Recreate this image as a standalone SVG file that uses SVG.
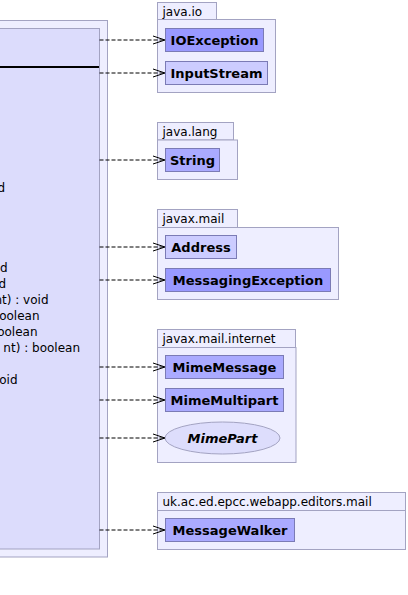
<svg xmlns="http://www.w3.org/2000/svg" width="408" height="595" viewBox="0 0 408 595">
  <defs>
    <style>
      .frame { fill: #eeeeff; stroke: #a3a3c2; stroke-width: 1; }
      .inner { fill: #dcdcfc; stroke: #a3a3c2; stroke-width: 1; }
      .pkg { fill: #eeeeff; stroke: #a3a3c2; stroke-width: 1; }
      .pkgname { font-family: "DejaVu Sans", sans-serif; font-size: 12px; fill: #000; }
      .cls { stroke: #7b7bb5; stroke-width: 1; }
      .c1 { fill: #9999ff; }
      .c2 { fill: #aaaaff; }
      .c3 { fill: #ccccff; }
      .clsname { font-family: "DejaVu Sans", sans-serif; font-size: 13px; font-weight: bold; fill: #000; text-anchor: middle; }
      .iface { fill: #ddddfc; stroke: #a3a3c2; stroke-width: 1; }
      .member { font-family: "DejaVu Sans", sans-serif; font-size: 12px; fill: #000; text-anchor: end; }
      .dep { fill: none; stroke: #000; stroke-width: 1; stroke-dasharray: 4,2; }
      .head { fill: none; stroke: #000; stroke-width: 1; }
    </style>
  </defs>

  <!-- class being documented (partly outside the view on the left) -->
  <g id="MailClass">
    <rect class="frame" x="-20" y="20.5" width="127.5" height="536.5"/>
    <rect class="inner" x="-20" y="28.5" width="119.5" height="520.5"/>
    <line x1="-20" y1="67" x2="99" y2="67" stroke="#000" stroke-width="2"/>
    <text class="member" x="5" y="191.5">d</text>
    <text class="member" x="7.5" y="271.5">d</text>
    <text class="member" x="6" y="287.5">d</text>
    <text class="member" x="48.5" y="303.5">nt) : void</text>
    <text class="member" x="39.5" y="319.5">boolean</text>
    <text class="member" x="37.5" y="335.5">oolean</text>
    <text class="member" x="80" y="351.5">nt) : boolean</text>
    <text class="member" x="17.5" y="383.5">oid</text>
  </g>

  <!-- package java.io -->
  <g id="pkg-java.io">
    <rect class="pkg" x="157.5" y="2.5" width="59" height="17"/>
    <rect class="pkg" x="157.5" y="19.5" width="118" height="73"/>
    <text class="pkgname" x="162.5" y="15.5">java.io</text>
  </g>
  <g id="IOException">
    <rect class="cls c1" x="165.5" y="28.5" width="98" height="23"/>
    <text class="clsname" x="214.5" y="44.5">IOException</text>
  </g>
  <g id="InputStream">
    <rect class="cls c3" x="165.5" y="61.5" width="102" height="23"/>
    <text class="clsname" x="216.5" y="77.5">InputStream</text>
  </g>

  <!-- package java.lang -->
  <g id="pkg-java.lang">
    <rect class="pkg" x="157.5" y="122.5" width="76" height="17.5"/>
    <rect class="pkg" x="157.5" y="140" width="80" height="39.5"/>
    <text class="pkgname" x="162.5" y="135.5">java.lang</text>
  </g>
  <g id="String">
    <rect class="cls c2" x="165.5" y="148.5" width="54" height="23"/>
    <text class="clsname" x="192.5" y="164.5">String</text>
  </g>

  <!-- package javax.mail -->
  <g id="pkg-javax.mail">
    <rect class="pkg" x="157.5" y="209.5" width="80" height="18"/>
    <rect class="pkg" x="157.5" y="227.5" width="181" height="72"/>
    <text class="pkgname" x="162.5" y="222.5">javax.mail</text>
  </g>
  <g id="Address">
    <rect class="cls c3" x="165.5" y="235.5" width="71" height="23"/>
    <text class="clsname" x="201" y="251.5">Address</text>
  </g>
  <g id="MessagingException">
    <rect class="cls c1" x="165.5" y="268.5" width="165" height="23"/>
    <text class="clsname" x="248" y="284.5">MessagingException</text>
  </g>

  <!-- package javax.mail.internet -->
  <g id="pkg-javax.mail.internet">
    <rect class="pkg" x="157.5" y="329.5" width="138" height="18"/>
    <rect class="pkg" x="157.5" y="347.5" width="138.5" height="115"/>
    <text class="pkgname" x="162.5" y="342.5">javax.mail.internet</text>
  </g>
  <g id="MimeMessage">
    <rect class="cls c2" x="165.5" y="355.5" width="118" height="23"/>
    <text class="clsname" x="224.5" y="371.5">MimeMessage</text>
  </g>
  <g id="MimeMultipart">
    <rect class="cls c2" x="165.5" y="388.5" width="118" height="23"/>
    <text class="clsname" x="224.5" y="404.5">MimeMultipart</text>
  </g>
  <g id="MimePart">
    <ellipse class="iface" cx="222.5" cy="438" rx="57.5" ry="16"/>
    <text class="clsname" x="222.5" y="442.5" font-style="italic">MimePart</text>
  </g>

  <!-- package uk.ac.ed.epcc.webapp.editors.mail -->
  <g id="pkg-uk.ac.ed.epcc.webapp.editors.mail">
    <rect class="pkg" x="157.5" y="492.5" width="248" height="18"/>
    <rect class="pkg" x="157.5" y="510.5" width="248" height="39"/>
    <text class="pkgname" x="162.5" y="505.5">uk.ac.ed.epcc.webapp.editors.mail</text>
  </g>
  <g id="MessageWalker">
    <rect class="cls c2" x="165.5" y="518.5" width="129" height="23"/>
    <text class="clsname" x="230" y="534.5">MessageWalker</text>
  </g>

  <!-- dependency connectors -->
  <g id="connectors">
    <line class="dep" x1="99.5" y1="40" x2="164" y2="40"/>
    <polyline class="head" points="153,36 165,40 153,44"/>
    <line class="dep" x1="99.5" y1="73" x2="164" y2="73"/>
    <polyline class="head" points="153,69 165,73 153,77"/>
    <line class="dep" x1="99.5" y1="160" x2="164" y2="160"/>
    <polyline class="head" points="153,156 165,160 153,164"/>
    <line class="dep" x1="99.5" y1="247" x2="164" y2="247"/>
    <polyline class="head" points="153,243 165,247 153,251"/>
    <line class="dep" x1="99.5" y1="280" x2="164" y2="280"/>
    <polyline class="head" points="153,276 165,280 153,284"/>
    <line class="dep" x1="99.5" y1="367" x2="164" y2="367"/>
    <polyline class="head" points="153,363 165,367 153,371"/>
    <line class="dep" x1="99.5" y1="400" x2="164" y2="400"/>
    <polyline class="head" points="153,396 165,400 153,404"/>
    <line class="dep" x1="99.5" y1="438" x2="164" y2="438"/>
    <polyline class="head" points="153,434 165,438 153,442"/>
    <line class="dep" x1="99.5" y1="530" x2="164" y2="530"/>
    <polyline class="head" points="153,526 165,530 153,534"/>
  </g>
</svg>
